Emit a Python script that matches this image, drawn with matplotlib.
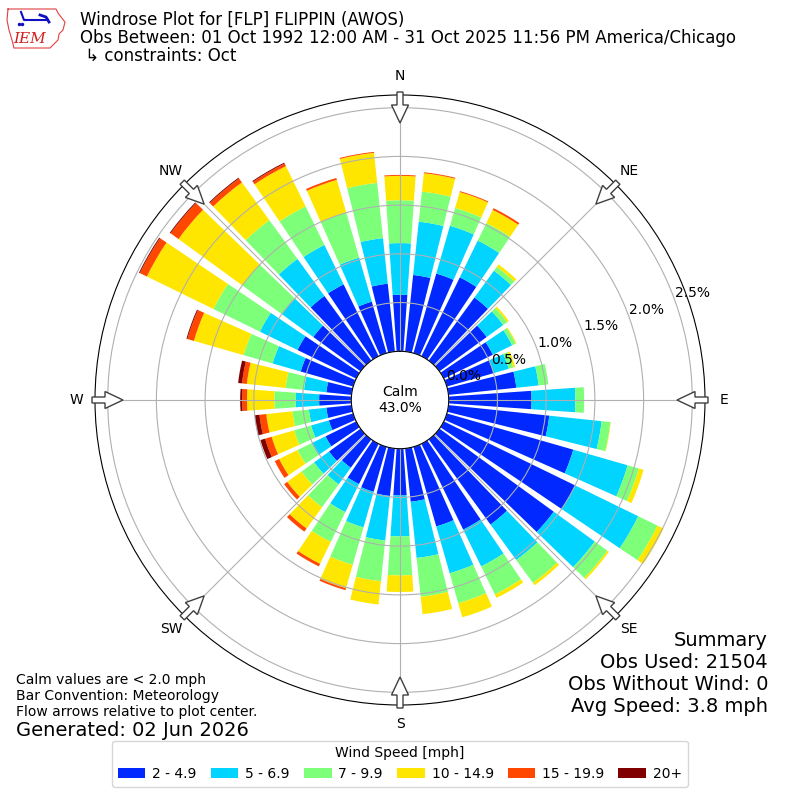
import numpy as np
import matplotlib
matplotlib.use('Agg')
import matplotlib.pyplot as plt
from matplotlib.patches import Patch, Polygon

# wind directions (deg, meteorological) and frequency (%) per speed bin
directions = np.arange(0, 360, 10)
bin_labels = ['2 - 4.9', '5 - 6.9', '7 - 9.9', '10 - 14.9', '15 - 19.9', '20+']
bin_colors = ['#0028ff', '#00d4ff', '#7dff7a', '#ffe600', '#ff4700', '#800000']

spd_2_5 = [0.58, 0.79, 0.85, 0.90, 0.80, 0.60, 0.56, 0.50, 0.70, 0.85, 1.04, 1.35,
           1.50, 1.45, 1.08, 0.98, 0.85, 0.55, 0.48, 0.49, 0.48, 0.46, 0.36, 0.40,
           0.35, 0.26, 0.26, 0.33, 0.26, 0.56, 0.67, 0.60, 0.82, 0.82, 0.55, 0.70]
spd_5_7 = [0.53, 0.55, 0.51, 0.42, 0.34, 0.21, 0.22, 0.16, 0.23, 0.45, 0.54, 0.58,
           0.72, 0.52, 0.45, 0.42, 0.50, 0.58, 0.42, 0.46, 0.38, 0.32, 0.21, 0.19,
           0.16, 0.19, 0.18, 0.24, 0.23, 0.30, 0.43, 0.40, 0.47, 0.45, 0.47, 0.47]
spd_7_10 = [0.44, 0.31, 0.19, 0.20, 0.05, 0.05, 0.04, 0.05, 0.10, 0.09, 0.09, 0.12,
            0.22, 0.16, 0.29, 0.32, 0.32, 0.40, 0.40, 0.42, 0.40, 0.34, 0.29, 0.16,
            0.16, 0.18, 0.17, 0.22, 0.19, 0.31, 0.53, 0.50, 0.49, 0.44, 0.48, 0.57]
spd_10_15 = [0.25, 0.19, 0.17, 0.15, 0.03, 0.02, 0.01, 0.02, 0.00, 0.00, 0.005, 0.05,
             0.07, 0.02, 0.03, 0.04, 0.15, 0.18, 0.17, 0.24, 0.25, 0.25, 0.27, 0.18,
             0.21, 0.24, 0.27, 0.28, 0.40, 0.53, 0.76, 0.81, 0.48, 0.46, 0.35, 0.31]
spd_15_20 = [0.01, 0.01, 0.01, 0.02, 0.00, 0.00, 0.00, 0.00, 0.00, 0.00, 0.00, 0.00,
             0.00, 0.00, 0.00, 0.00, 0.00, 0.00, 0.00, 0.00, 0.02, 0.03, 0.04, 0.04,
             0.05, 0.07, 0.07, 0.05, 0.05, 0.07, 0.08, 0.10, 0.05, 0.03, 0.02, 0.01]
spd_20p = [0.00, 0.00, 0.00, 0.00, 0.00, 0.00, 0.00, 0.00, 0.00, 0.00, 0.00, 0.00,
           0.00, 0.00, 0.00, 0.00, 0.00, 0.00, 0.00, 0.00, 0.00, 0.00, 0.00, 0.00,
           0.00, 0.05, 0.05, 0.02, 0.04, 0.01, 0.01, 0.01, 0.01, 0.01, 0.00, 0.00]

calm_pct = 43.0
rticks = [0.0, 0.5, 1.0, 1.5, 2.0, 2.5]
compass = ['N', 'NE', 'E', 'SE', 'S', 'SW', 'W', 'NW']

title_lines = ['Windrose Plot for [FLP] FLIPPIN (AWOS)',
               'Obs Between: 01 Oct 1992 12:00 AM - 31 Oct 2025 11:56 PM America/Chicago',
               ' \u21b3 constraints: Oct']
notes = ['Calm values are < 2.0 mph', 'Bar Convention: Meteorology',
         'Flow arrows relative to plot center.']
summary = ['Summary', 'Obs Used: 21504', 'Obs Without Wind: 0', 'Avg Speed: 3.8 mph']

fig = plt.figure(figsize=(8, 8), dpi=100)
ax = fig.add_axes([95 / 800, 95 / 800, 610 / 800, 610 / 800], projection='polar')
ax.set_theta_zero_location('N')
ax.set_theta_direction(-1)

rmax = 2.63
ax.set_rorigin(-0.5)
ax.set_ylim(0, rmax)

theta = np.deg2rad(directions)
width = np.deg2rad(8)
bottom = np.zeros(len(directions))
for vals, col in zip([spd_2_5, spd_5_7, spd_7_10, spd_10_15, spd_15_20, spd_20p], bin_colors):
    vals = np.array(vals)
    ax.bar(theta, vals, width=width, bottom=bottom, color=col, edgecolor='none',
           linewidth=0, zorder=1)
    bottom += vals

ax.set_rticks(rticks)
ax.set_yticklabels(['%.1f%%' % t for t in rticks], fontsize=10)
ax.set_rlabel_position(70)
ax.set_thetagrids(np.arange(0, 360, 45), labels=[''] * 8)
ax.grid(True, color='#b0b0b0', linewidth=0.8)
ax.spines['polar'].set_color('black')
ax.spines['inner'].set_color('black')

ax.text(0.5, 0.5, 'Calm\n%.1f%%' % calm_pct, transform=ax.transAxes,
        ha='center', va='center', fontsize=10)

# compass labels and inward pointing arrows
px = 1 / 610.0
for i, lab in enumerate(compass):
    a = np.deg2rad(i * 45)
    u = np.array([np.sin(a), np.cos(a)])
    v = np.array([np.cos(a), -np.sin(a)])
    c = np.array([0.5, 0.5])
    ax.text(*(c + u * 324 * px), lab, transform=ax.transAxes,
            ha='center', va='center', fontsize=10)
    pts = [c + u * 277 * px,
           c + (u * 295 + v * 8.5) * px,
           c + (u * 295 + v * 3) * px,
           c + (u * 308 + v * 3) * px,
           c + (u * 308 - v * 3) * px,
           c + (u * 295 - v * 3) * px,
           c + (u * 295 - v * 8.5) * px]
    ax.add_patch(Polygon(pts, closed=True, transform=ax.transAxes, facecolor='white',
                         edgecolor='#404040', linewidth=1, clip_on=False, zorder=5))

# header
for i, line in enumerate(title_lines):
    fig.text(80 / 800, 1 - (20 + 18 * i) / 800, line, fontsize=12, va='center', ha='left')

# rough IEM logo
lax = fig.add_axes([0, 1 - 52 / 800, 70 / 800, 52 / 800])
lax.set_xlim(0, 70)
lax.set_ylim(52, 0)
lax.axis('off')
iowa_x = [8, 56, 58, 61, 65, 63, 59, 58, 53, 50, 14, 12, 9, 7, 8]
iowa_y = [9, 9, 13, 17, 22, 30, 34, 40, 45, 48, 48, 40, 30, 20, 9]
lax.plot(iowa_x, iowa_y, color='#e04040', lw=0.8)
lax.plot([21, 24, 48], [12, 20, 20], color='#1010c0', lw=1.5)
lax.plot([40, 46, 49], [15, 17, 22], color='#1010c0', lw=2)
lax.plot([19, 22], [24, 24], 'o', color='#1010c0', ms=1.5)
lax.text(30, 39, 'IEM', color='#d02020', fontsize=11, family='DejaVu Serif',
         style='italic', ha='center', va='center')

# notes
for i, line in enumerate(notes):
    fig.text(16 / 800, 1 - (680 + 16 * i) / 800, line, fontsize=10, va='center')
fig.text(16 / 800, 1 - 730 / 800, 'Generated: 02 Jun 2026', fontsize=14, va='center')

for i, line in enumerate(summary):
    fig.text(768 / 800, 1 - (640 + 22 * i) / 800, line, fontsize=14, va='center', ha='right')

handles = [Patch(facecolor=c, edgecolor='none') for c in bin_colors]
fig.legend(handles, bin_labels, loc='lower center', bbox_to_anchor=(0.5, 0.008), ncol=6,
           title='Wind Speed [mph]', fontsize=10, title_fontsize=10,
           columnspacing=1.0, handletextpad=0.5)

fig.savefig('out.png', dpi=100)
